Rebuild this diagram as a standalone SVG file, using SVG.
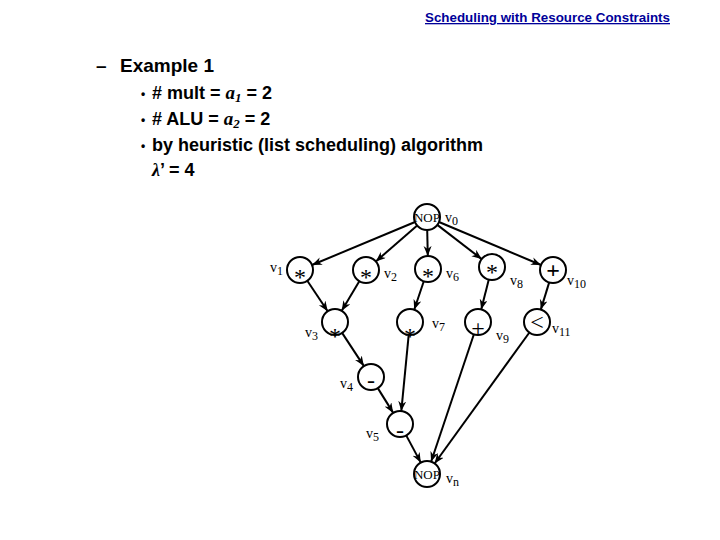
<svg xmlns="http://www.w3.org/2000/svg" width="720" height="540" viewBox="0 0 720 540">
<style>
.title{font-family:"Liberation Sans",Arial,sans-serif;font-size:13px;font-weight:bold;fill:#000099;text-decoration:underline}
.h{font-family:"Liberation Sans",Arial,sans-serif;font-weight:bold;fill:#000}
.it{font-family:"Liberation Serif","Times New Roman",serif;font-style:italic;font-weight:bold}
.node{fill:#fff;stroke:#000;stroke-width:2}
.sym{font-family:"Liberation Serif","Times New Roman",serif;font-size:24px;text-anchor:middle;fill:#000}
.nop{font-family:"Liberation Serif","Times New Roman",serif;font-size:13px;text-anchor:middle;fill:#000}
.lbl{font-family:"Liberation Serif","Times New Roman",serif;font-size:14px;fill:#000}
.sub{font-size:12px}
.edge{stroke:#000;stroke-width:2;fill:none;marker-end:url(#arr)}
</style>
<defs>
<marker id="arr" markerUnits="userSpaceOnUse" markerWidth="11" markerHeight="9" refX="10" refY="4" orient="auto">
<path d="M0,0 L10,4 L0,8 L3,4 z" fill="#000"/>
</marker>
</defs>
<rect width="720" height="540" fill="#fff"/>
<text class="title" x="425" y="22" textLength="245" lengthAdjust="spacingAndGlyphs">Scheduling with Resource Constraints</text>
<text class="h" x="96" y="72" font-size="19">–</text>
<text class="h" x="120" y="72" font-size="19">Example 1</text>
<g class="h" font-size="18">
<text x="141" y="98" font-size="12">•</text>
<text x="152" y="99"># mult = <tspan class="it" font-size="19">a</tspan><tspan class="it" font-size="13" dy="3">1</tspan><tspan dy="-3"> = 2</tspan></text>
<text x="141" y="124" font-size="12">•</text>
<text x="152" y="125"># ALU = <tspan class="it" font-size="19">a</tspan><tspan class="it" font-size="13" dy="3">2</tspan><tspan dy="-3"> = 2</tspan></text>
<text x="141" y="150" font-size="12">•</text>
<text x="152" y="151">by heuristic (list scheduling) algorithm</text>
<text x="152" y="176"><tspan class="it" font-style="normal">λ</tspan>’ = 4</text>
</g>
<g id="connectors">
<line class="edge" x1="415" y1="222" x2="312" y2="265"/>
<line class="edge" x1="417.2" y1="225.5" x2="375.8" y2="261.5"/>
<line class="edge" x1="427.2" y1="230" x2="427.8" y2="256"/>
<line class="edge" x1="437.3" y1="224.9" x2="481.7" y2="259.1"/>
<line class="edge" x1="439" y1="222" x2="541" y2="265"/>
<line class="edge" x1="307.3" y1="280.8" x2="327.7" y2="311.2"/>
<line class="edge" x1="359.3" y1="281.2" x2="341.7" y2="310.8"/>
<line class="edge" x1="423.8" y1="281.3" x2="414.2" y2="309.7"/>
<line class="edge" x1="488.8" y1="279.6" x2="481.2" y2="309.4"/>
<line class="edge" x1="549.2" y1="282.4" x2="540.8" y2="309.6"/>
<line class="edge" x1="342.1" y1="332.9" x2="363.9" y2="366.1"/>
<line class="edge" x1="377.8" y1="388.1" x2="393.2" y2="412.9"/>
<line class="edge" x1="408.7" y1="334.9" x2="401.3" y2="411.1"/>
<line class="edge" x1="406.2" y1="435.4" x2="420.8" y2="462.6"/>
<line class="edge" x1="473.9" y1="334.3" x2="431.1" y2="461.7"/>
<line class="edge" x1="529.4" y1="332.5" x2="434.6" y2="463.5"/>
</g>
<g id="v0"><circle class="node" cx="427" cy="217" r="13"/><text class="nop" x="427" y="222">NOP</text><text class="lbl" x="445" y="222">v<tspan class="sub" dy="3">0</tspan></text></g>
<g id="v1"><circle class="node" cx="300" cy="270" r="13"/><text class="sym" x="300" y="285">*</text><text class="lbl" x="270" y="272">v<tspan class="sub" dy="3">1</tspan></text></g>
<g id="v2"><circle class="node" cx="366" cy="270" r="13"/><text class="sym" x="366" y="285">*</text><text class="lbl" x="384" y="278">v<tspan class="sub" dy="3">2</tspan></text></g>
<g id="v6"><circle class="node" cx="428" cy="269" r="13"/><text class="sym" x="428" y="284">*</text><text class="lbl" x="446" y="278">v<tspan class="sub" dy="3">6</tspan></text></g>
<g id="v8"><circle class="node" cx="492" cy="267" r="13"/><text class="sym" x="492" y="280">*</text><text class="lbl" x="510" y="285">v<tspan class="sub" dy="3">8</tspan></text></g>
<g id="v10"><circle class="node" cx="553" cy="270" r="13"/><text class="sym" x="553" y="278" font-weight="bold">+</text><text class="lbl" x="567" y="285">v<tspan class="sub" dy="3">10</tspan></text></g>
<g id="v3"><circle class="node" cx="335" cy="322" r="13"/><text class="sym" x="335" y="344">*</text><text class="lbl" x="305" y="337">v<tspan class="sub" dy="3">3</tspan></text></g>
<g id="v7"><circle class="node" cx="410" cy="322" r="13"/><text class="sym" x="410" y="344">*</text><text class="lbl" x="432" y="328">v<tspan class="sub" dy="3">7</tspan></text></g>
<g id="v9"><circle class="node" cx="478" cy="322" r="13"/><text class="sym" x="478" y="336">+</text><text class="lbl" x="496" y="340">v<tspan class="sub" dy="3">9</tspan></text></g>
<g id="v11"><circle class="node" cx="537" cy="322" r="13"/><text class="sym" x="537" y="330">&lt;</text><text class="lbl" x="552" y="333">v<tspan class="sub" dy="3">11</tspan></text></g>
<g id="v4"><circle class="node" cx="371" cy="377" r="13"/><text class="sym" x="371" y="388">-</text><text class="lbl" x="340" y="388">v<tspan class="sub" dy="3">4</tspan></text></g>
<g id="v5"><circle class="node" cx="400" cy="424" r="13"/><text class="sym" x="400" y="438">-</text><text class="lbl" x="366" y="438">v<tspan class="sub" dy="3">5</tspan></text></g>
<g id="vn"><circle class="node" cx="427" cy="474" r="13"/><text class="nop" x="427" y="479">NOP</text><text class="lbl" x="446" y="483">v<tspan class="sub" dy="3">n</tspan></text></g>
</svg>
